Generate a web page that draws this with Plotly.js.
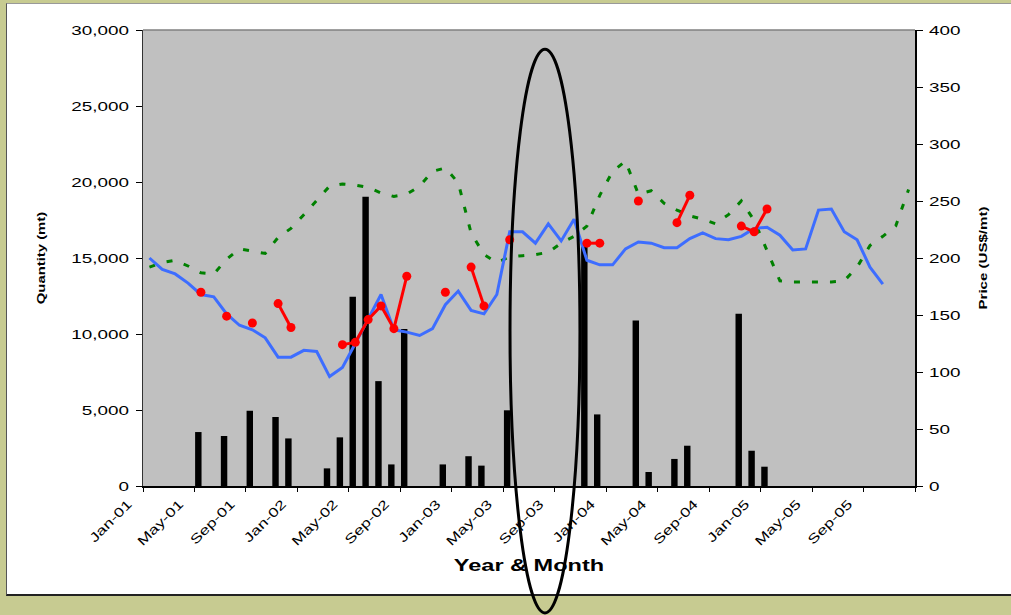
<!DOCTYPE html>
<html>
<head>
<meta charset="utf-8">
<script src="https://cdn.plot.ly/plotly-3.0.1.min.js"></script>
<style>
html,body{margin:0;padding:0;background:#C7CB91;overflow:hidden;width:1011px;height:615px;}
#card{position:absolute;left:6px;top:3px;width:1010px;height:593px;background:#fff;border-left:1px solid #555;border-top:1px solid #999;border-bottom:2px solid #222;box-sizing:border-box;}
#chart{position:absolute;left:0;top:0;width:1011px;height:615px;}
</style>
</head>
<body>
<div id="card"></div>
<div id="chart"></div>
<script>
// ---- categories (months) ----
const months = [
 'Jan-01','Feb-01','Mar-01','Apr-01','May-01','Jun-01','Jul-01','Aug-01','Sep-01','Oct-01','Nov-01','Dec-01',
 'Jan-02','Feb-02','Mar-02','Apr-02','May-02','Jun-02','Jul-02','Aug-02','Sep-02','Oct-02','Nov-02','Dec-02',
 'Jan-03','Feb-03','Mar-03','Apr-03','May-03','Jun-03','Jul-03','Aug-03','Sep-03','Oct-03','Nov-03','Dec-03',
 'Jan-04','Feb-04','Mar-04','Apr-04','May-04','Jun-04','Jul-04','Aug-04','Sep-04','Oct-04','Nov-04','Dec-04',
 'Jan-05','Feb-05','Mar-05','Apr-05','May-05','Jun-05','Jul-05','Aug-05','Sep-05','Oct-05','Nov-05','Dec-05'
];
// ---- tick labels ----
const tickLabels = ['Jan-01','May-01','Sep-01','Jan-02','May-02','Sep-02','Jan-03','May-03','Sep-03',
                    'Jan-04','May-04','Sep-04','Jan-05','May-05','Sep-05'];
// ---- quantity (mt), left axis bars ----
const quantity = [null,null,null,null,3550,null,3290,null,4950,null,4540,3130,
                  null,null,1160,3200,12450,19030,6900,1420,10330,null,null,1420,
                  null,1960,1340,null,4980,null,null,null,null,null,15900,4710,
                  null,null,10880,920,null,1780,2650,null,null,null,11340,2320,
                  1270,null,null,null,null,null,null,null,null,null,null,null];
// ---- price series (US$/mt), right axis ----
const priceBlue = [200,190,186,178,168,166,151,141,137,130,113,113,
                   119,118,96,104,125,147,168,137,135,132,138,159,
                   171,154,151,168,223,223,213,230,215,234,198,194,
                   194,208,214,213,209,209,217,222,217,216,219,226,
                   227,220,207,208,242,243,223,216,192,177];
const priceGreen = [192,196,198,193,187,186,199,208,206,204,218,226,
                    238,251,263,265,264,262,257,254,256,263,276,279,
                    266,222,203,196,201,202,203,205,213,219,228,255,
                    276,285,256,259,248,242,237,234,230,238,250,233,
                    206,180,179,179,179,179,180,192,211,219,228,260];
const priceRed = [null,null,null,null,170,null,149,null,143,null,160,139,
                  null,null,null,124,126,146,158,138,184,null,null,170,
                  null,192,158,null,216,null,null,null,null,null,213,213,
                  null,null,250,null,null,231,255,null,null,null,228,223,
                  243,null,null,null,null,null,null,null,null,null,null,null];

const idx = months.map((m, i) => i);
const tickPos = tickLabels.map(l => months.indexOf(l) - 0.5).concat([months.length - 0.5]);
const tickText = tickLabels.concat(['']);

const traces = [
  {type:'bar', x: idx, y: quantity, yaxis:'y', marker:{color:'#000000'}, width:0.5, offset:-0.45, hoverinfo:'skip'},
  {type:'scatter', mode:'lines', x: idx.slice(0, priceGreen.length), y: priceGreen, yaxis:'y2',
   line:{color:'#008000', width:3, dash:'6px,12px'}, hoverinfo:'skip'},
  {type:'scatter', mode:'lines', x: idx.slice(0, priceBlue.length), y: priceBlue, yaxis:'y2',
   line:{color:'#3D6DFF', width:3}, hoverinfo:'skip'},
  {type:'scatter', mode:'lines+markers', x: idx, y: priceRed, yaxis:'y2', connectgaps:false,
   line:{color:'#FF0000', width:3}, marker:{color:'#FF0000', size:9}, hoverinfo:'skip'}
];

const layout = {
  width:1011, height:615,
  margin:{l:143, r:96, t:30, b:129, pad:0},
  paper_bgcolor:'rgba(0,0,0,0)', plot_bgcolor:'#C0C0C0',
  showlegend:false,
  font:{family:'Liberation Sans, Arial, sans-serif', color:'#000', size:13},
  xaxis:{range:[-0.5, months.length - 0.5], tickmode:'array', tickvals: tickPos, ticktext: tickText,
         tickangle:-45, ticks:'outside', ticklen:4, tickcolor:'#000', tickwidth:1,
         showline:true, linecolor:'#000', linewidth:1.5, showgrid:false, zeroline:false,
         ticklabelshift:-15, ticklabelstandoff:0, tickfont:{size:13},
         title:{text:'Year & Month', font:{size:16, weight:'bold'}, standoff:23}},
  yaxis:{range:[0,30000], dtick:5000, tickformat:',d', ticks:'outside', ticklen:6, tickcolor:'#000',
         showline:true, linecolor:'#333', linewidth:1.5, showgrid:false, zeroline:false,
         tickfont:{size:13}, ticklabelstandoff:4,
         title:{text:'Quantity (mt)', font:{size:11, weight:'bold'}, standoff:41}},
  yaxis2:{range:[0,400], dtick:50, overlaying:'y', side:'right', ticks:'outside', ticklen:6, tickcolor:'#000',
          showline:true, linecolor:'#000', linewidth:1.5, showgrid:false, zeroline:false,
          tickfont:{size:13}, ticklabelstandoff:4,
          title:{text:'Price (US$/mt)', font:{size:11, weight:'bold'}, standoff:29}},
  shapes:[
    {type:'line', xref:'paper', yref:'paper', x0:0, x1:1, y0:1, y1:1, line:{color:'#808080', width:1.5}, layer:'above'},
    {type:'circle', xref:'paper', yref:'paper', x0:0.4754, x1:0.5660, y0:-0.2785, y1:0.958,
     line:{color:'#000', width:3}, layer:'above'}
  ]
};

const gd = document.getElementById('chart');
Plotly.newPlot(gd, traces, layout, {staticPlot:true, displayModeBar:false}).then(() => {
  function stretch(sel, k){
    gd.querySelectorAll(sel).forEach(t => {
      const L = t.getComputedTextLength();
      if (L > 0) {
        t.setAttribute('textLength', (L * k).toFixed(2));
        t.setAttribute('lengthAdjust', 'spacingAndGlyphs');
      }
    });
  }
  stretch('.ytick text', 1.45);
  stretch('.y2tick text', 1.45);
  stretch('.xtick text', 1.35);
  stretch('text.xtitle', 1.47);
  stretch('text.ytitle', 1.35);
  stretch('text.y2title', 1.37);
});
</script>
</body>
</html>
